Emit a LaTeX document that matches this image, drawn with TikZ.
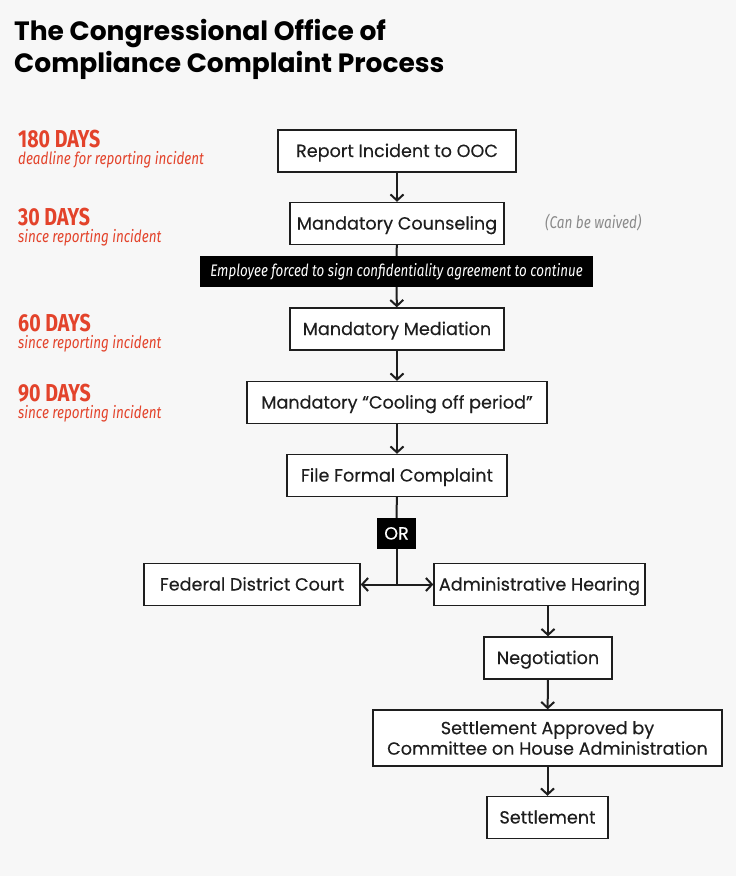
\documentclass[tikz,border=0pt]{standalone}
\usepackage{fontspec}
\setmainfont{Poppins}
\newfontfamily\boxfont[FakeBold=0.25]{Poppins}
\newfontfamily\titlefont{Poppins}
\newfontfamily\condfont[FakeStretch=0.8]{Fira Sans}
\usetikzlibrary{arrows.meta}
\definecolor{bg}{HTML}{F7F7F7}
\definecolor{redlab}{HTML}{E3432B}
\definecolor{ink}{HTML}{1E1E1E}
\definecolor{waived}{HTML}{8A8A8A}
\begin{document}
\begin{tikzpicture}[x=1pt,y=-1pt,
  basebox/.style={draw=ink,line width=1.4pt,fill=white,minimum height=42pt,inner sep=0pt,
    font=\boxfont\fontsize{17.6}{20.5}\selectfont,text=ink,align=center},
  box/.style={basebox,text height=15pt,text depth=3pt},
  blackbox/.style={fill=black,text=white,inner sep=0pt},
  conn/.style={draw=ink,line width=2pt},
  arr/.style={conn,-{Straight Barb[length=6pt,width=13pt,line width=2pt]}},
  days/.style={anchor=base west,inner sep=0pt,text=redlab,font=\condfont\bfseries\fontsize{24.5}{26}\selectfont},
  sub/.style={anchor=base west,inner sep=0pt,text=redlab,font=\condfont\itshape\fontsize{16.8}{18}\selectfont},
  title/.style={anchor=base west,inner sep=0pt,text=black,font=\titlefont\bfseries\fontsize{26.5}{30}\selectfont}
]
\fill[bg] (0,0) rectangle (736,876);
\useasboundingbox (0,0) rectangle (736,876);

\node[title] (t1) at (14,40) {The Congressional Office of};
\node[title] (t2) at (14,72) {Compliance Complaint Process};

\node[days] (d180) at (18,147) {180 DAYS};
\node[sub] (s180) at (18,164) {deadline for reporting incident};
\node[days] (d30) at (18,225) {30 DAYS};
\node[sub] (s30) at (18,242) {since reporting incident};
\node[days] (d60) at (18,331) {60 DAYS};
\node[sub] (s60) at (18,348) {since reporting incident};
\node[days] (d90) at (18,401) {90 DAYS};
\node[sub] (s90) at (18,418) {since reporting incident};

\node[box,minimum width=238pt] (b1) at (397,151) {Report Incident to OOC};
\node[box,minimum width=214pt] (b2) at (397,223.5) {Mandatory Counseling};
\node[anchor=base west,inner sep=0pt,text=waived,font=\condfont\itshape\fontsize{17}{18}\selectfont] (wv) at (545,228) {(Can be waived)};
\node[blackbox,minimum width=393pt,minimum height=31pt,font=\condfont\itshape\fontsize{16.7}{18}\selectfont] (ban) at (396.5,271.5) {Employee forced to sign confidentiality agreement to continue};
\node[box,minimum width=214pt] (b3) at (397,329) {Mandatory Mediation};
\node[box,minimum width=300pt] (b4) at (397,402.5) {Mandatory “Cooling off period”};
\node[box,minimum width=220pt] (b5) at (397,475.5) {File Formal Complaint};
\node[blackbox,minimum width=39pt,minimum height=31pt,font=\boxfont\fontsize{17.6}{20}\selectfont,text height=15pt,text depth=3pt] (or) at (396.5,533.5) {OR};
\coordinate (j) at (396.5,584.5);
\node[box,minimum width=216pt] (fdc) at (252,584.5) {Federal District Court};
\node[box,minimum width=211pt] (ah) at (539.5,584.5) {Administrative Hearing};
\node[box,minimum width=128pt] (neg) at (548,658) {Negotiation};
\node[basebox,minimum width=349pt,minimum height=56pt] (sa) at (547.5,738) {Settlement Approved by\\Committee on House Administration};
\node[box,minimum width=121pt] (set) at (547.5,817.5) {Settlement};

\draw[arr] (b1) -- (b2);
\draw[conn] (b2) -- (ban);
\draw[arr] (ban) -- (b3);
\draw[arr] (b3) -- (b4);
\draw[arr] (b4) -- (b5);
\draw[conn] (b5) -- (or);
\draw[conn] (or.south) -- (j);
\draw[arr] (j) -- (fdc.east);
\draw[arr] (j) -- (ah.west);
\draw[arr] (ah.south -| neg.north) -- (neg.north);
\draw[arr] (neg) -- (sa);
\draw[arr] (sa) -- (set);
\end{tikzpicture}
\end{document}
